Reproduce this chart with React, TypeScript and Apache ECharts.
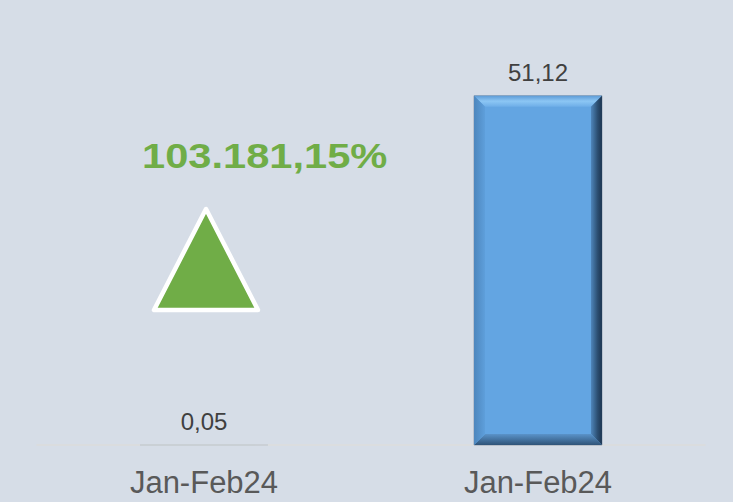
import React, { useEffect, useRef } from "react";
import * as echarts from "echarts";

const categories = ["Jan-Feb24", "Jan-Feb24 "];
const values = [0.05, 51.12];
const changeLabel = "103.181,15%";

const fmt = (v: number) => v.toFixed(2).replace(".", ",");
const FONT = "Liberation Sans, Arial, sans-serif";

export default function App() {
  const ref = useRef<HTMLDivElement>(null);
  useEffect(() => {
    const chart = echarts.init(ref.current!, null, { renderer: "svg" });
    const option: any = {
      animation: false,
      backgroundColor: "#d6dde7",
      grid: { left: 37, right: 28, top: 35, bottom: 57 },
      xAxis: {
        type: "category",
        data: categories,
        axisLine: { show: true, lineStyle: { color: "#dcdcdc", width: 1.5 } },
        axisTick: { show: false },
        axisLabel: {
          color: "#595959",
          fontSize: 31,
          fontFamily: FONT,
          margin: 22,
          formatter: (v: string) => v.trim(),
        },
      },
      yAxis: { type: "value", min: 0, max: 60, show: false, splitLine: { show: false } },
      series: [
        {
          type: "custom",
          data: values.map((v, i) => [i, v]),
          encode: { x: 0, y: 1 },
          renderItem: (params: any, api: any) => {
            const idx = api.value(0);
            const val = api.value(1);
            const top = api.coord([idx, val]);
            const base = api.coord([idx, 0]);
            const bw = api.size([1, 0])[0] * 0.383;
            const x0 = top[0] - bw / 2;
            const x1 = top[0] + bw / 2;
            const y0 = top[1];
            const y1 = base[1];
            const h = y1 - y0;
            const b = Math.min(11, h / 2, bw / 2);
            const children: any[] = [
              {
                type: "rect",
                shape: { x: x0, y: y0, width: bw, height: Math.max(h, 0.6) },
                style: { fill: h < 2 ? "#9aaabb" : "#63a5e2", stroke: h < 2 ? null : "#8696a8", lineWidth: 0.8 },
              },
            ];
            if (h > 4) {
              children.push(
                {
                  type: "polygon",
                  shape: { points: [[x0, y0], [x1, y0], [x1 - b, y0 + b], [x0 + b, y0 + b]] },
                  style: {
                    fill: new echarts.graphic.LinearGradient(0, 0, 0, 1, [
                      { offset: 0, color: "#5d9bd6" },
                      { offset: 0.5, color: "#8cc6f4" },
                      { offset: 1, color: "#6eaee8" },
                    ]),
                  },
                },
                {
                  type: "polygon",
                  shape: { points: [[x1, y0], [x1, y1], [x1 - b, y1 - b], [x1 - b, y0 + b]] },
                  style: {
                    fill: new echarts.graphic.LinearGradient(0, 0, 1, 0, [
                      { offset: 0, color: "#4f86bb" },
                      { offset: 0.6, color: "#2c4f72" },
                      { offset: 1, color: "#1c3450" },
                    ]),
                  },
                },
                {
                  type: "polygon",
                  shape: { points: [[x0, y1], [x1, y1], [x1 - b, y1 - b], [x0 + b, y1 - b]] },
                  style: {
                    fill: new echarts.graphic.LinearGradient(0, 0, 0, 1, [
                      { offset: 0, color: "#5a93c9" },
                      { offset: 1, color: "#2f5378" },
                    ]),
                  },
                },
                {
                  type: "polygon",
                  shape: { points: [[x0, y0], [x0 + b, y0 + b], [x0 + b, y1 - b], [x0, y1]] },
                  style: {
                    fill: new echarts.graphic.LinearGradient(0, 0, 1, 0, [
                      { offset: 0, color: "#4d86bd" },
                      { offset: 1, color: "#5e9fdb" },
                    ]),
                  },
                }
              );
            }
            children.push({
              type: "text",
              style: {
                text: fmt(val),
                x: top[0],
                y: y0 - 11,
                textAlign: "center",
                textVerticalAlign: "bottom",
                fill: "#404040",
                fontSize: 24,
                fontFamily: FONT,
              },
            });
            return { type: "group", children };
          },
        },
      ],
      graphic: [
        {
          type: "text",
          x: 142,
          y: 156,
          scaleX: 1.19,
          style: {
            text: changeLabel,
            fill: "#70ad47",
            fontSize: 35,
            fontWeight: "bold",
            fontFamily: FONT,
            textAlign: "left",
            textVerticalAlign: "middle",
          },
        },
        {
          type: "polygon",
          shape: { points: [[206, 209], [154, 310], [258, 310]] },
          style: { fill: "#70ad47", stroke: "#ffffff", lineWidth: 4.5, lineJoin: "round" },
        },
      ],
    };
    chart.setOption(option);
    return () => chart.dispose();
  }, []);
  return <div ref={ref} style={{ width: 733, height: 502, position: "absolute", left: 0, top: 0 }} />;
}
